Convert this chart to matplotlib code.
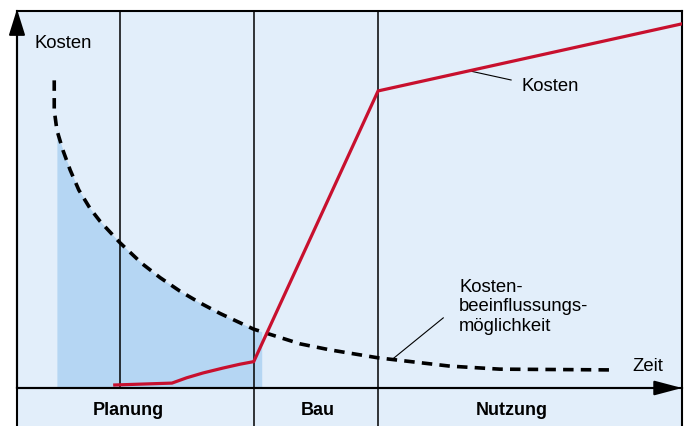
import matplotlib.pyplot as plt
import numpy as np

plt.rcParams['font.family'] = ['Liberation Sans', 'DejaVu Sans']

# phase boundaries (time axis, 0..100)
phase_edges = [15.5, 35.6, 54.3]
phase_names = ['Planung', 'Bau', 'Nutzung']
phase_label_x = [16.7, 45.3, 74.4]

# Kostenbeeinflussungsmoeglichkeit (dashed curve)
infl_x = [5.6, 5.6, 6.0, 6.9, 8.0, 9.3, 11.0, 12.5, 15.5, 18.8, 21.5, 24.5, 27.5,
          30.5, 35.6, 42.6, 47.1, 54.3, 65.1, 72.6, 89.2]
infl_y = [81.6, 73.7, 68.4, 63.1, 57.8, 52.5, 47.6, 44.2, 38.5, 33.0, 29.3, 25.7, 22.6,
          19.8, 15.6, 11.7, 10.1, 8.0, 5.8, 5.0, 4.8]

# Kosten (red line)
cost_x = [14.7, 23.3, 25.5, 28.0, 31.0, 33.5, 35.6, 54.3, 100.0]
cost_y = [0.8, 1.3, 2.7, 4.0, 5.3, 6.3, 7.0, 78.8, 96.6]

# shaded area under the curve
shade_from, shade_to = 6.0, 36.8

bg = '#e2eefa'
shade = '#b5d6f3'
red = '#c8102e'

fig = plt.figure(figsize=(6.87, 4.26), dpi=100)
W, H = 687, 426
band = fig.add_axes([17 / W, 0, 665 / W, 38 / H])
ax = fig.add_axes([17 / W, 38 / H, 665 / W, 377 / H])
ax.set_zorder(3)

for a in (ax, band):
    a.set_facecolor(bg)
    a.set_xlim(0, 100)
    a.set_xticks([])
    a.set_yticks([])
    for s in a.spines.values():
        s.set_linewidth(1.5)
        s.set_color('black')
ax.set_ylim(0, 100)
band.set_ylim(0, 1)
band.spines['bottom'].set_visible(False)
band.spines['top'].set_visible(False)

# shaded area
xs = np.linspace(shade_from, shade_to, 200)
ys = np.interp(xs, infl_x[1:], infl_y[1:])
ax.fill_between(xs, 0, ys, color=shade, lw=0, zorder=1)

# phase lines
ax.axvline(phase_edges[0], color='black', lw=1.1, zorder=2)
for e in phase_edges[1:]:
    ax.axvline(e, color='black', lw=1.1, zorder=2)
    band.axvline(e, color='black', lw=1.1)

ax.plot(infl_x, infl_y, color='black', lw=2.6, linestyle=(0, (2.9, 2.0)), zorder=3)
ax.plot(cost_x, cost_y, color=red, lw=2.3, zorder=4, solid_joinstyle='miter')

# axis arrows
ax.annotate('', xy=(0, 100.5), xytext=(0, 0), annotation_clip=False,
            arrowprops=dict(arrowstyle='-|>,head_length=1.6,head_width=0.5', lw=1.5,
                            color='black', shrinkA=0, shrinkB=0), zorder=5)
ax.annotate('', xy=(100, 0), xytext=(0, 0), annotation_clip=False,
            arrowprops=dict(arrowstyle='-|>,head_length=1.7,head_width=0.45', lw=1.5,
                            color='black', shrinkA=0, shrinkB=0), zorder=5)

fs = 13.3
ax.text(2.7, 91.5, 'Kosten', fontsize=fs, va='center', ha='left')
ax.text(92.6, 5.8, 'Zeit', fontsize=fs, va='center', ha='left')
ax.text(75.9, 80.1, 'Kosten', fontsize=fs, va='center', ha='left')
ax.plot([68.1, 74.3], [84.1, 81.7], color='black', lw=0.8)
ax.text(66.5, 29.0, 'Kosten-\nbeeinflussungs-\nmöglichkeit', fontsize=fs, va='top',
        ha='left', linespacing=1.2)
ax.plot([64.1, 56.5], [18.6, 7.7], color='black', lw=0.8)

for x, name in zip(phase_label_x, phase_names):
    band.text(x, 0.42, name, fontsize=13, fontweight='bold', ha='center', va='center')

fig.savefig('out.png', dpi=100)
